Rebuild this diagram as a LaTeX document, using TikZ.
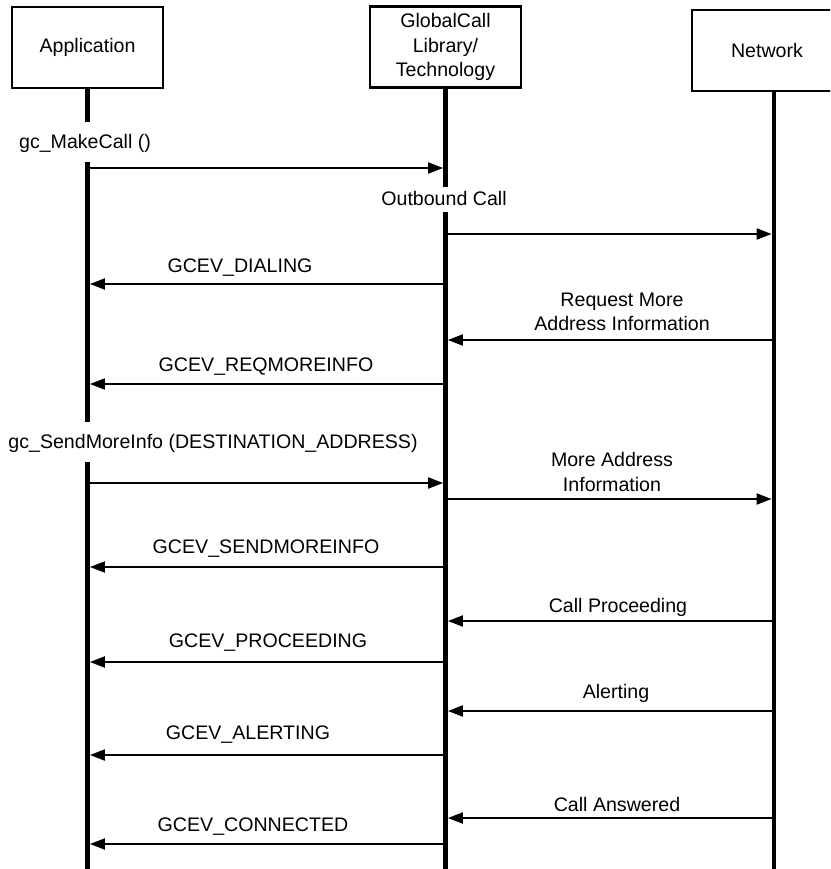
\documentclass[tikz,border=0pt]{standalone}
\usepackage{fontspec}
\setmainfont{Liberation Sans}
\usetikzlibrary{arrows.meta}

\begin{document}
\begin{tikzpicture}[x=1pt,y=-1pt,
  every node/.style={font=\fontsize{19.6}{24.5}\selectfont},
  box/.style={draw,line width=2.2pt,minimum width=151pt,minimum height=81pt,align=center,inner sep=0pt},
  life/.style={line width=4.6pt},
  msg/.style={line width=2pt,-{Triangle[length=15pt,width=11pt]},shorten >=2.4pt},
  lbl/.style={inner sep=0pt,align=center}]

% draw the space
\useasboundingbox (0,0) rectangle (830,869);
\clip (0,0) rectangle (830,869);

% the boxes
\node[box] (app) at (87.5,47.5) {Application};
\node[box] (gc) at (445.5,47) {GlobalCall\\Library/\\Technology};
\node[box,minimum width=150pt] (net) at (767,50.5) {Network};
\coordinate (netline) at (774,91);

% the life lines
\draw[life] (app.south) -- (87.5,122);
\draw[life] (87.5,162) -- (87.5,422);
\draw[life] (87.5,462) -- (87.5,880);
\draw[life] (gc.south) -- (445.5,187);
\draw[life] (445.5,212) -- (445.5,880);
\draw[life] (netline) -- (774,880);

% gc_MakeCall ()
\node[lbl] (makecall) at (85,143) {gc\_MakeCall ()};
\coordinate (m1) at (0,168);
\draw[msg] (app |- m1) -- (gc |- m1);

% Outbound Call
\node[lbl] (outbound) at (444,198) {Outbound Call};
\coordinate (m2) at (0,234);
\draw[msg] (gc |- m2) -- (netline |- m2);

% GCEV_DIALING
\node[lbl] (dialing) at (240,268) {GCEV\_DIALING};
\coordinate (m3) at (0,284);
\draw[msg] (gc |- m3) -- (app |- m3);

% Request More Address Information
\node[lbl] (request) at (622,312) {Request More\\Address Information};
\coordinate (m4) at (0,340);
\draw[msg] (netline |- m4) -- (gc |- m4);

% GCEV_REQMOREINFO
\node[lbl] (reqmore) at (266,367) {GCEV\_REQMOREINFO};
\coordinate (m5) at (0,384);
\draw[msg] (gc |- m5) -- (app |- m5);

% gc_SendMoreInfo (DESTINATION_ADDRESS)
\node[lbl] (sendmore) at (213,443) {gc\_SendMoreInfo (DESTINATION\_ADDRESS)};
\coordinate (m6) at (0,483);
\draw[msg] (app |- m6) -- (gc |- m6);

% More Address Information
\node[lbl] (moreaddr) at (612,472) {More Address\\Information};
\coordinate (m7) at (0,499);
\draw[msg] (gc |- m7) -- (netline |- m7);

% GCEV_SENDMOREINFO
\node[lbl] (sendinfo) at (266,549) {GCEV\_SENDMOREINFO};
\coordinate (m8) at (0,567);
\draw[msg] (gc |- m8) -- (app |- m8);

% Call Proceeding
\node[lbl] (callproc) at (618,607) {Call Proceeding};
\coordinate (m9) at (0,621);
\draw[msg] (netline |- m9) -- (gc |- m9);

% GCEV_PROCEEDING
\node[lbl] (proceeding) at (268,643) {GCEV\_PROCEEDING};
\coordinate (m10) at (0,662);
\draw[msg] (gc |- m10) -- (app |- m10);

% Alerting
\node[lbl] (alerting) at (616,693) {Alerting};
\coordinate (m11) at (0,711);
\draw[msg] (netline |- m11) -- (gc |- m11);

% GCEV_ALERTING
\node[lbl] (gcalerting) at (248,735) {GCEV\_ALERTING};
\coordinate (m12) at (0,755);
\draw[msg] (gc |- m12) -- (app |- m12);

% Call Answered
\node[lbl] (answered) at (617,804) {Call Answered};
\coordinate (m13) at (0,818);
\draw[msg] (netline |- m13) -- (gc |- m13);

% GCEV_CONNECTED
\node[lbl] (connected) at (253,827) {GCEV\_CONNECTED};
\coordinate (m14) at (0,844);
\draw[msg] (gc |- m14) -- (app |- m14);

\end{tikzpicture}
\end{document}
